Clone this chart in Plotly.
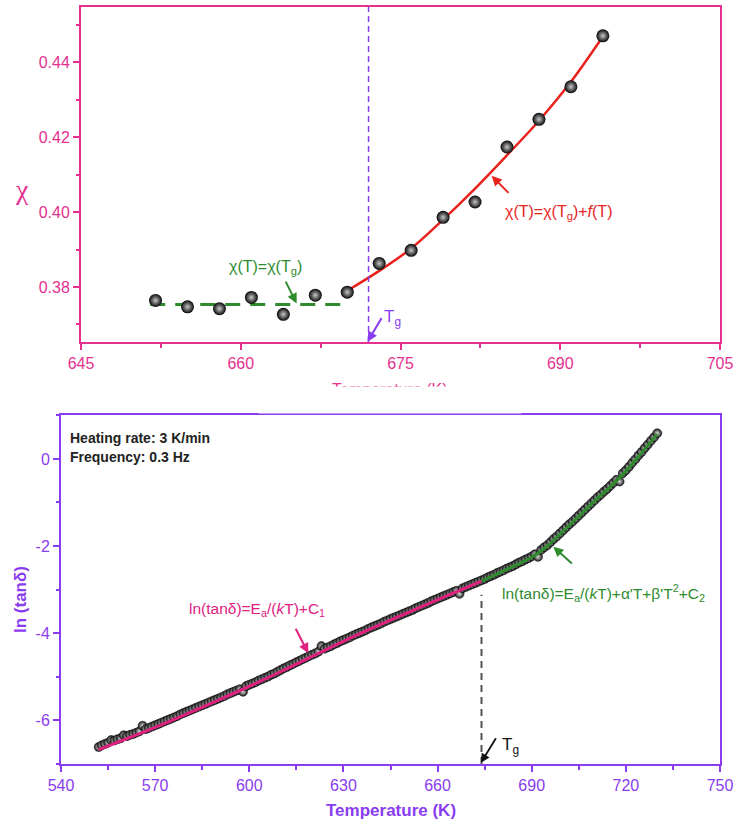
import plotly.graph_objects as go

W, H = 737, 823
FONT = "Arial, Liberation Sans, sans-serif"
SERIF = "Times New Roman, Liberation Serif, serif"
PINK = "#E4318F"
PURPLE = "#8A3CF0"
GREEN = "#2E8B2E"
RED = "#E8231E"

# ---- upper panel: chi vs temperature ----
chi_T = [652, 655, 658, 661, 664, 667, 670, 673, 676, 679, 682, 685, 688, 691, 694]
chi_val = [0.3764, 0.3747, 0.3742, 0.3772, 0.3727, 0.3778, 0.3786, 0.3863,
           0.3898, 0.3986, 0.4027, 0.4174, 0.4248, 0.4335, 0.4471]

glass_T = [651.5, 669.8]
glass_chi = [0.3753, 0.3753]

fit_T = [670, 673, 676, 679, 682, 685, 688, 691, 694]
fit_chi = [0.3790, 0.3843, 0.3903, 0.3980, 0.4063, 0.4152, 0.4244, 0.4348, 0.4469]

Tg_top = 672

# ---- lower panel: ln(tan delta) vs temperature ----
loss_T = list(range(552, 731))
loss_val = [
    -6.62, -6.58, -6.55, -6.52, -6.46, -6.47, -6.44, -6.42, -6.35, -6.37,   # 552-561
    -6.34, -6.32, -6.29, -6.26, -6.13, -6.21, -6.18, -6.15, -6.12, -6.09,   # 562-571
    -6.06, -6.03, -6.00, -5.97, -5.94, -5.91, -5.87, -5.84, -5.81, -5.78,   # 572-581
    -5.75, -5.72, -5.69, -5.66, -5.63, -5.60, -5.57, -5.54, -5.51, -5.48,   # 582-591
    -5.45, -5.41, -5.38, -5.35, -5.32, -5.29, -5.35, -5.22, -5.19, -5.16,   # 592-601
    -5.13, -5.09, -5.06, -5.03, -5.00, -4.96, -4.93, -4.89, -4.85, -4.81,   # 602-611
    -4.78, -4.74, -4.71, -4.67, -4.64, -4.60, -4.57, -4.53, -4.50, -4.47,   # 612-621
    -4.43, -4.30, -4.36, -4.33, -4.30, -4.26, -4.23, -4.19, -4.16, -4.13,   # 622-631
    -4.10, -4.06, -4.03, -4.00, -3.97, -3.94, -3.90, -3.87, -3.84, -3.81,   # 632-641
    -3.78, -3.74, -3.71, -3.68, -3.65, -3.62, -3.59, -3.56, -3.53, -3.50,   # 642-651
    -3.47, -3.43, -3.40, -3.37, -3.34, -3.31, -3.27, -3.24, -3.21, -3.18,   # 652-661
    -3.15, -3.12, -3.09, -3.06, -3.03, -3.10, -2.97, -2.94, -2.91, -2.88,   # 662-671
    -2.85, -2.82, -2.79, -2.76, -2.72, -2.69, -2.66, -2.62, -2.59, -2.56,   # 672-681
    -2.52, -2.49, -2.46, -2.42, -2.38, -2.35, -2.31, -2.28, -2.24, -2.19,   # 682-691
    -2.25, -2.09, -2.03, -1.98, -1.91, -1.84, -1.78, -1.71, -1.64, -1.57,   # 692-701
    -1.50, -1.44, -1.37, -1.30, -1.23, -1.16, -1.09, -1.02, -0.95, -0.88,   # 702-711
    -0.82, -0.75, -0.69, -0.62, -0.55, -0.48, -0.52, -0.33, -0.26, -0.18,   # 712-721
    -0.09, -0.01, 0.08, 0.16, 0.25, 0.33, 0.42, 0.50, 0.59,                 # 722-730
]

low_fit_T = [552, 570, 590, 610, 630, 650, 674]
low_fit_val = [-6.68, -6.17, -5.55, -4.89, -4.19, -3.55, -2.81]

high_fit_T = [674, 680, 685, 690, 695, 700, 705, 710, 715, 720, 725, 730]
high_fit_val = [-2.81, -2.61, -2.44, -2.26, -2.00, -1.66, -1.32, -0.97, -0.64, -0.28, 0.14, 0.57]

Tg_low = 674
Tg_low_top = -3.12

# lower y-axis tick labels (plain hyphen minus signs)
low_y_ticks = [-6, -4, -2, 0]
low_y_text = ["-6", "-4", "-2", "0"]


def px(x):
    return x / W


def py(y):
    return 1 - y / H


fig = go.Figure()

# upper panel traces
fig.add_trace(go.Scatter(x=glass_T, y=glass_chi, mode="lines",
                         line=dict(color=GREEN, width=3, dash="15px,10px"),
                         xaxis="x", yaxis="y", showlegend=False))
fig.add_trace(go.Scatter(x=fit_T, y=fit_chi, mode="lines", line_shape="spline",
                         line=dict(color=RED, width=2.5),
                         xaxis="x", yaxis="y", showlegend=False))
fig.add_trace(go.Scatter(x=chi_T, y=chi_val, mode="markers",
                         marker=dict(size=13, color="#050505",
                                     gradient=dict(type="radial", color="#c8c8c8"),
                                     line=dict(width=0)),
                         xaxis="x", yaxis="y", showlegend=False))

# lower panel traces
fig.add_trace(go.Scatter(x=loss_T, y=loss_val, mode="markers",
                         marker=dict(size=9, color="#1e1e1e",
                                     gradient=dict(type="radial", color="#dcdcdc"),
                                     line=dict(width=0.5, color="#000000")),
                         xaxis="x2", yaxis="y2", showlegend=False))
fig.add_trace(go.Scatter(x=low_fit_T, y=low_fit_val, mode="lines", line_shape="spline",
                         line=dict(color="#E0207F", width=3),
                         xaxis="x2", yaxis="y2", showlegend=False))
fig.add_trace(go.Scatter(x=high_fit_T, y=high_fit_val, mode="lines", line_shape="spline",
                         line=dict(color=GREEN, width=3),
                         xaxis="x2", yaxis="y2", showlegend=False))


def axis_style(color, rng, dtick, tick0, minor_dtick, domain, anchor, fmt=None):
    d = dict(range=rng, domain=domain, anchor=anchor, dtick=dtick, tick0=tick0,
             automargin=False,
             showline=True, linecolor=color, linewidth=2, mirror=True,
             ticks="outside", ticklen=6, tickwidth=1.5, tickcolor=color,
             minor=dict(ticks="outside", ticklen=3.5, tickwidth=1.5,
                        tickcolor=color, dtick=minor_dtick, tick0=tick0),
             tickfont=dict(family=FONT, size=16, color=color),
             showgrid=False, zeroline=False)
    if fmt:
        d["tickformat"] = fmt
    return d


y2 = axis_style(PURPLE, [-7.01, 1.01], 2, 0, 1, [py(764), py(415)], "x2")
y2.update(tickmode="array", tickvals=low_y_ticks, ticktext=low_y_text)

fig.update_layout(
    width=W, height=H, margin=dict(l=0, r=0, t=0, b=0, pad=0, autoexpand=False),
    paper_bgcolor="white", plot_bgcolor="white",
    xaxis=axis_style(PINK, [645, 705], 15, 645, 7.5, [px(81), px(720)], "y"),
    yaxis=axis_style(PINK, [0.3653, 0.4548], 0.02, 0.38, 0.01, [py(342), py(7)], "x", ".2f"),
    xaxis2=axis_style(PURPLE, [540, 750], 30, 540, 15, [px(61), px(720)], "y2"),
    yaxis2=y2,
)

# reference lines at the glass transition
fig.add_shape(type="line", xref="x", yref="y", x0=Tg_top, x1=Tg_top, y0=0.3653, y1=0.4548,
              line=dict(color=PURPLE, width=1.5, dash="6px,4px"))
fig.add_shape(type="line", xref="x2", yref="y2", x0=Tg_low, x1=Tg_low, y0=-7.01, y1=Tg_low_top,
              line=dict(color="#555555", width=2, dash="7px,5px"))


def label(x, y, text, size, color, ref=("paper", "paper"), xanchor="center", family=FONT, **kw):
    return dict(x=x, y=y, xref=ref[0], yref=ref[1], showarrow=False, text=text,
                xanchor=xanchor, yanchor="middle",
                font=dict(family=family, size=size, color=color), **kw)


def arrow(x, y, ax, ay, color, ref, width=2):
    return dict(x=x, y=y, xref=ref[0], yref=ref[1], text="", showarrow=True,
                ax=ax, ay=ay, arrowhead=2, arrowsize=1, arrowwidth=width, arrowcolor=color)


TOP = ("x", "y")
LOW = ("x2", "y2")

ann = [
    # upper panel
    label(662.3, 0.3851, "χ(T)=χ(T<sub>g</sub>)", 16, GREEN, TOP),
    arrow(665.25, 0.3756, -11.7, -23.3, GREEN, TOP),
    label(689.8, 0.3998, "χ(T)=χ(T<sub>g</sub>)+<i>f</i>(T)", 16, RED, TOP),
    arrow(683.56, 0.4097, 18.3, 18.6, RED, TOP),
    label(673.3, 0.3717, "T<sub>g</sub>", 17, PURPLE, TOP, xanchor="left"),
    arrow(671.9, 0.3654, 15, -25, PURPLE, TOP),
    label(px(22), py(190), "χ", 28, PINK, family=SERIF),
    # upper x title, only the top of it shows above the lower panel
    label(px(390), py(389), "Temperature (K)", 16, PINK),
    dict(x=px(390), y=py(386), xref="paper", yref="paper", showarrow=False,
         xanchor="center", yanchor="top", text=" ", bgcolor="white",
         width=260, height=24, font=dict(size=10)),
    # lower panel
    label(px(68), py(438), "<b>Heating rate: 3 K/min</b>", 14, "#222222", xanchor="left"),
    label(px(68), py(456.5), "<b>Frequency: 0.3 Hz</b>", 14, "#222222", xanchor="left"),
    label(602.5, -3.448, "ln(tanδ)=E<sub>a</sub>/(<i>k</i>T)+C<sub>1</sub>", 15.5, "#E0207F", LOW),
    arrow(618.8, -4.466, -13.3, -26, "#E0207F", LOW),
    label(680, -3.08, "ln(tanδ)=E<sub>a</sub>/(<i>k</i>T)+α'T+β'T<sup>2</sup>+C<sub>2</sub>",
          15.5, GREEN, LOW, xanchor="left"),
    arrow(696.9, -2.016, 20, 18.3, GREEN, LOW),
    label(679.9, -6.596, "T<sub>g</sub>", 17, "#111111", LOW, xanchor="left"),
    arrow(673.8, -6.98, 16, -26, "#111111", LOW, width=1.8),
    label(px(390.7), py(810), "<b>Temperature (K)</b>", 17, PURPLE),
    label(px(20), py(600), "<b>ln (tanδ)</b>", 17, PURPLE, textangle=-90),
]

fig.update_layout(annotations=ann)

fig.write_html("out.html")
